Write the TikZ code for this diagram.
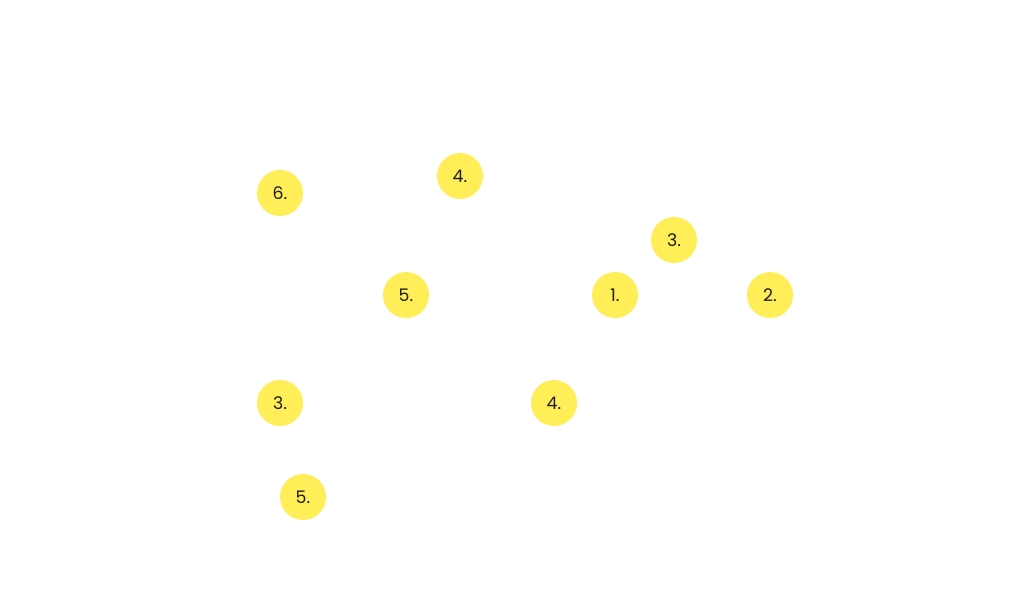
\documentclass[tikz,border=0pt]{standalone}
\usepackage{fontspec}
\setmainfont{Poppins}
\definecolor{dotyellow}{HTML}{FFEE58}
\definecolor{txt}{HTML}{1E1E1E}
\begin{document}
\begin{tikzpicture}[x=0.75pt,y=-0.75pt,
  dot/.style={circle,fill=dotyellow,draw=none,minimum size=34.5pt,inner sep=0pt,text=txt,font=\fontsize{13}{13}\selectfont}]
\useasboundingbox (0,0) rectangle (1024,615);
\node[dot] (a) at (280,193) {6.};
\node[dot] (b) at (460,176) {4.};
\node[dot] (c) at (674,240) {3.};
\node[dot] (d) at (406,295) {5.};
\node[dot] (e) at (615,295) {1.};
\node[dot] (f) at (770,295) {2.};
\node[dot] (g) at (280,403) {3.};
\node[dot] (h) at (554,403) {4.};
\node[dot] (i) at (303,497) {5.};
\end{tikzpicture}
\end{document}
